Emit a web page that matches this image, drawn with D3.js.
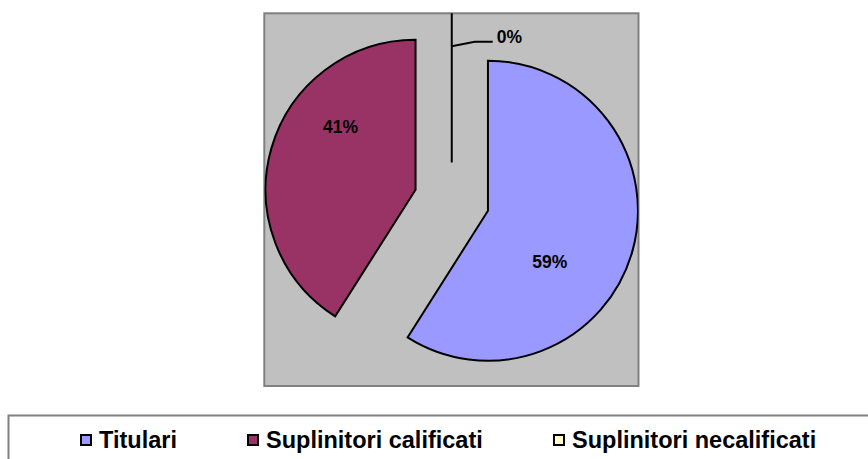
<!DOCTYPE html>
<html><head><meta charset="utf-8">
<script src="https://cdn.jsdelivr.net/npm/d3@7/dist/d3.min.js"></script>
<style>html,body{margin:0;padding:0;background:#fff;}svg{display:block;}</style>
</head><body>
<script>
const categories = ["Titulari", "Suplinitori calificati", "Suplinitori necalificati"];
const values = [59, 41, 0];
const percentLabels = ["59%", "41%", "0%"];
const colors = ["#9999FF", "#993366", "#FFFFCC"];

const W = 868, H = 459;
const svg = d3.select("body").append("svg").attr("width", W).attr("height", H);

// plot area
const plot = {x0: 264.3, y0: 13.3, x1: 638.5, y1: 386};
svg.append("defs").append("clipPath").attr("id", "pclip")
  .append("rect").attr("x", plot.x0).attr("y", plot.y0)
  .attr("width", plot.x1 - plot.x0).attr("height", plot.y1 - plot.y0);
svg.append("rect").attr("x", plot.x0).attr("y", plot.y0)
  .attr("width", plot.x1 - plot.x0).attr("height", plot.y1 - plot.y0)
  .attr("fill", "#C0C0C0").attr("stroke", "#808080").attr("stroke-width", 2);

const cx = 451.75, cy = 200.25, R = 150, explode = 37.7;
const pie = d3.pie().sort(null).startAngle(0).endAngle(2 * Math.PI);
const arcs = pie(values);
const arc = d3.arc().innerRadius(0).outerRadius(R);

const g = svg.append("g").attr("clip-path", "url(#pclip)");
const labelShift = 23.5 * Math.PI / 180;
const labelR = [80.5, 97.5, 0];

arcs.forEach((a, i) => {
  const mid = (a.startAngle + a.endAngle) / 2;
  const ox = cx + explode * Math.sin(mid), oy = cy - explode * Math.cos(mid);
  a.ox = ox; a.oy = oy;
  g.append("path").attr("d", arc(a))
    .attr("transform", `translate(${ox},${oy})`)
    .attr("fill", colors[i]).attr("stroke", "#000").attr("stroke-width", 2)
    .attr("stroke-linejoin", "miter");
});

// inside labels
arcs.forEach((a, i) => {
  if (values[i] === 0) return;
  const ang = (a.startAngle + a.endAngle) / 2 + labelShift;
  const lx = a.ox + labelR[i] * Math.sin(ang), ly = a.oy - labelR[i] * Math.cos(ang);
  svg.append("text").attr("x", lx).attr("y", ly + 6)
    .attr("text-anchor", "middle")
    .attr("font-family", "Liberation Sans, Arial, sans-serif")
    .attr("font-weight", "bold").attr("font-size", 17.5)
    .attr("fill", "#000").text(percentLabels[i]);
});

// zero slice label with leader line
arcs.forEach((a, i) => {
  if (values[i] !== 0) return;
  const x0 = a.ox, y0 = a.oy - R * 0.776;
  svg.append("path")
    .attr("d", d3.line()([[x0, y0], [x0 + 23, y0 - 4.3], [x0 + 41, y0 - 4.3]]))
    .attr("fill", "none").attr("stroke", "#000").attr("stroke-width", 2);
  svg.append("text").attr("x", x0 + 45).attr("y", y0 - 3.3)
    .attr("font-family", "Liberation Sans, Arial, sans-serif")
    .attr("font-weight", "bold").attr("font-size", 17.5)
    .attr("fill", "#000").text(percentLabels[i]);
});

// legend
svg.append("rect").attr("x", 8.5).attr("y", 415.5).attr("width", 880).attr("height", 60)
  .attr("fill", "#fff").attr("stroke", "#808080").attr("stroke-width", 2);
const legX = [80, 247, 553];
categories.forEach((c, i) => {
  svg.append("rect").attr("x", legX[i] + 1).attr("y", 435).attr("width", 10).attr("height", 10)
    .attr("fill", colors[i]).attr("stroke", "#000").attr("stroke-width", 2);
  svg.append("text").attr("x", legX[i] + 19).attr("y", 448)
    .attr("font-family", "Liberation Sans, Arial, sans-serif")
    .attr("font-weight", "bold").attr("font-size", 23.5)
    .attr("fill", "#000").text(c);
});
</script>
</body></html>
